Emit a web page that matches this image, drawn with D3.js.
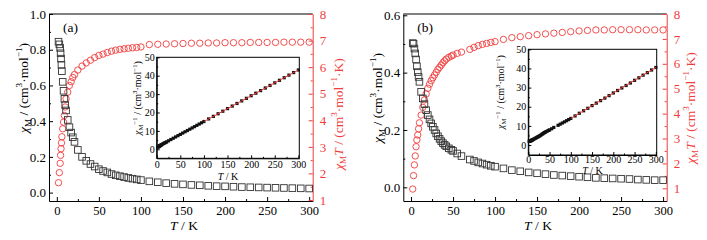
<!DOCTYPE html>
<html>
<head>
<meta charset="utf-8">
<script src="https://d3js.org/d3.v7.min.js"></script>
<style>
  body { margin: 0; background: #fff; }
  svg { display: block; }
</style>
</head>
<body>
<div id="chart"></div>
<script>
// ---- data ----
// panel (a)
const tempA = [2, 3, 4, 4.5, 5, 5.5, 6, 7, 8, 9, 10, 11, 13, 15, 17, 19, 21,
  25, 30, 35, 40, 45, 50, 55, 60, 65, 70, 75, 80, 85, 90, 95, 100,
  110, 120, 130, 140, 150, 160, 170, 180, 190, 200, 210, 220, 230, 240, 250, 260, 270, 280, 290, 300];
const chiA = [0.845, 0.83, 0.81, 0.78, 0.75, 0.715, 0.68, 0.62, 0.57, 0.525, 0.49, 0.46, 0.407, 0.366, 0.336, 0.31, 0.284,
  0.239, 0.2, 0.178, 0.16, 0.146, 0.131, 0.121, 0.113, 0.104, 0.097, 0.092, 0.087, 0.082, 0.078, 0.074, 0.07,
  0.063, 0.058, 0.053, 0.049, 0.046, 0.043, 0.041, 0.038, 0.036, 0.035, 0.033, 0.031, 0.03, 0.029, 0.028, 0.027, 0.026, 0.025, 0.024, 0.023];
const chiTA = [1.65, 2.03, 2.38, 2.68, 2.93, 3.15, 3.38, 3.68, 3.93, 4.18, 4.5, 4.81, 5.06, 5.31, 5.45, 5.61, 5.72,
  5.89, 6.04, 6.16, 6.26, 6.36, 6.44, 6.49, 6.55, 6.6, 6.64, 6.67, 6.69, 6.71, 6.73, 6.74, 6.76,
  6.85, 6.86, 6.87, 6.88, 6.89, 6.9, 6.9, 6.91, 6.91, 6.92, 6.92, 6.92, 6.93, 6.93, 6.93, 6.93, 6.94, 6.94, 6.94, 6.94];
const invA = [1.2, 1.3, 1.4, 1.5, 1.6, 1.7, 1.8, 1.95, 2.1, 2.3, 2.45, 2.6, 2.9, 3.2, 3.5, 3.7, 4.0,
  4.6, 5.3, 6.0, 6.7, 7.4, 8.1, 8.8, 9.5, 10.2, 10.9, 11.6, 12.3, 13.0, 13.7, 14.4, 15.1,
  16.5, 17.9, 19.3, 20.7, 22.1, 23.5, 24.9, 26.3, 27.7, 29.1, 30.5, 31.9, 33.3, 34.7, 36.1, 37.5, 38.9, 40.3, 41.7, 43.1];
const fitTA = [100, 300];
const fitVA = [15.1, 43.1];

// panel (b)
const tempB = [2, 3, 4, 5, 6, 7, 8, 9, 10, 12, 14, 16, 18, 20, 22, 24, 26, 28, 30,
  32, 34, 36, 38, 40, 42, 45, 48, 50, 55, 60, 70, 75, 80, 85, 90, 95, 100,
  110, 120, 130, 140, 150, 160, 170, 180, 190, 200, 210, 220, 230, 240, 250, 260, 270, 280, 290, 300];
const chiB = [0.503, 0.501, 0.484, 0.467, 0.446, 0.422, 0.402, 0.385, 0.368, 0.333, 0.31, 0.29, 0.269, 0.252, 0.237, 0.223, 0.211, 0.2, 0.188,
  0.178, 0.169, 0.161, 0.154, 0.148, 0.143, 0.136, 0.131, 0.127, 0.118, 0.109, 0.097, 0.092, 0.087, 0.083, 0.079, 0.075, 0.072,
  0.066, 0.06, 0.056, 0.052, 0.049, 0.046, 0.043, 0.041, 0.039, 0.037, 0.035, 0.033, 0.032, 0.031, 0.03, 0.029, 0.027, 0.026, 0.025, 0.025];
const chiTB = [0.97, 1.51, 1.94, 2.3, 2.67, 2.94, 3.14, 3.39, 3.63, 3.94, 4.25, 4.55, 4.79, 5.02, 5.18, 5.32, 5.44, 5.55, 5.66,
  5.78, 5.86, 5.95, 6.04, 6.12, 6.19, 6.26, 6.31, 6.35, 6.42, 6.47, 6.58, 6.66, 6.73, 6.78, 6.82, 6.86, 6.89,
  6.98, 7.05, 7.09, 7.13, 7.17, 7.2, 7.23, 7.26, 7.29, 7.32, 7.34, 7.36, 7.36, 7.37, 7.37, 7.37, 7.37, 7.36, 7.36, 7.36];
const invB = [2.0, 2.0, 2.1, 2.15, 2.25, 2.37, 2.49, 2.6, 2.72, 3.0, 3.23, 3.45, 3.7, 3.97, 4.2, 4.45, 4.7, 4.95, 5.3,
  5.6, 5.9, 6.2, 6.5, 6.75, 7.0, 7.35, 7.65, 7.9, 8.5, 9.2, 10.3, 10.9, 11.5, 12.1, 12.7, 13.3, 13.9,
  15.2, 16.6, 17.9, 19.2, 20.6, 21.9, 23.2, 24.5, 25.8, 27.2, 28.5, 29.8, 31.1, 32.4, 33.8, 35.1, 36.5, 37.8, 39.2, 40.5];
const fitTB = [100, 300];
const fitVB = [13.9, 40.5];

// tick labels
const xTicks = [0, 50, 100, 150, 200, 250, 300];
const xMinor = [25, 75, 125, 175, 225, 275];
const yTicksA = [0, 0.2, 0.4, 0.6, 0.8, 1.0];
const yTicksB = [0, 0.2, 0.4, 0.6];
const yMinor = [0.1, 0.3, 0.5, 0.7, 0.9];
const y2Ticks = [1, 2, 3, 4, 5, 6, 7, 8];
const y2Minor = [1.5, 2.5, 3.5, 4.5, 5.5, 6.5, 7.5];
const inYTicks = [0, 10, 20, 30, 40, 50];
const inYMinor = [5, 15, 25, 35, 45];

const RED = "#f03c3c";
const FONT = "'Liberation Serif', 'Times New Roman', serif";

const svg = d3.select("#chart").append("svg")
  .attr("width", 707).attr("height", 240)
  .attr("font-family", FONT);

// text with italic / sub / sup pieces
function rich(text, parts, fs) {
  let off = 0;
  parts.forEach(([s, kind]) => {
    const target = kind === "sub" ? 0.28 * fs : kind === "sup" ? -0.38 * fs : 0;
    const ts = text.append("tspan").attr("dy", target - off).text(s);
    off = target;
    if (kind === "sub" || kind === "sup") ts.attr("font-size", fs * 0.68);
    if (kind === "i") ts.attr("font-style", "italic");
  });
}

function styleAxis(sel, fs, color) {
  sel.attr("font-family", FONT).attr("font-size", fs);
  sel.selectAll("line").attr("stroke", color);
  sel.select(".domain").attr("stroke", color);
  sel.selectAll("text").attr("fill", color);
}

const chiLabel = [["χ", "i"], ["M", "sub"], [" / (cm", ""], ["3", "sup"], ["·mol", ""], ["−1", "sup"], [")", ""]];
const chiTLabel = [["χ", "i"], ["M", "sub"], ["T", "i"], [" / (cm", ""], ["3", "sup"], ["·mol", ""], ["−1", "sup"], ["·K)", ""]];
const invLabel = [["χ", "i"], ["M", "sub"], ["−1", "sup"], [" / (cm", ""], ["3", "sup"], ["·mol", ""], ["−1", "sup"], [")", ""]];

function drawPanel(p) {
  const g = svg.append("g");
  const x = d3.scaleLinear().domain(p.xDom).range([p.L, p.R]);
  const y = d3.scaleLinear().domain(p.yDom).range([p.B, p.T]);
  const y2 = d3.scaleLinear().domain(p.y2Dom).range([p.B, p.T]);

  // top line of the frame
  g.append("line").attr("x1", p.L).attr("x2", p.R).attr("y1", p.T).attr("y2", p.T).attr("stroke", "#000");

  // bottom axis
  g.append("g").attr("transform", `translate(0,${p.B})`)
    .call(d3.axisBottom(x).tickValues(xTicks).tickSize(-4).tickSizeOuter(0).tickPadding(5))
    .call(styleAxis, 12.5, "#000");
  g.append("g").attr("transform", `translate(0,${p.B})`)
    .call(d3.axisBottom(x).tickValues(xMinor).tickSize(-2).tickSizeOuter(0).tickFormat(""))
    .call(s => s.select(".domain").remove()).call(styleAxis, 12, "#000");

  // left axis
  g.append("g").attr("transform", `translate(${p.L},0)`)
    .call(d3.axisLeft(y).tickValues(p.yTicks).tickSize(-4).tickSizeOuter(0).tickPadding(3).tickFormat(d3.format(".1f")))
    .call(styleAxis, 13, "#000");
  g.append("g").attr("transform", `translate(${p.L},0)`)
    .call(d3.axisLeft(y).tickValues(p.yMinor).tickSize(-2).tickSizeOuter(0).tickFormat(""))
    .call(s => s.select(".domain").remove()).call(styleAxis, 12, "#000");

  // right axis (red)
  g.append("g").attr("transform", `translate(${p.R},0)`)
    .call(d3.axisRight(y2).tickValues(y2Ticks).tickSize(-4).tickSizeOuter(0).tickPadding(7).tickFormat(d3.format("d")))
    .call(styleAxis, 13, RED);
  g.append("g").attr("transform", `translate(${p.R},0)`)
    .call(d3.axisRight(y2).tickValues(y2Minor).tickSize(-2).tickSizeOuter(0).tickFormat(""))
    .call(s => s.select(".domain").remove()).call(styleAxis, 12, RED);

  // axis titles
  const tl = g.append("text").attr("font-size", 13.5).attr("text-anchor", "middle")
    .attr("transform", `translate(${p.ltX},${p.ltY}) rotate(-90)`);
  rich(tl, chiLabel, 13.5);
  const tr = g.append("text").attr("font-size", 13.5).attr("text-anchor", "middle").attr("fill", RED)
    .attr("transform", `translate(${p.rtX},${p.rtY}) rotate(-90)`);
  rich(tr, chiTLabel, 13.5);
  const tb = g.append("text").attr("font-size", 13.5).attr("text-anchor", "middle")
    .attr("x", p.btX).attr("y", 230);
  rich(tb, [["T", "i"], [" / K", ""]], 13.5);

  g.append("text").attr("x", p.L + 14).attr("y", 32).attr("font-size", 13.5).text(p.name);

  // data: chi_M T (red circles) and chi_M (squares)
  g.append("g").selectAll("circle")
    .data(p.temp.map((t, i) => ({ t, v: p.chiT[i] })))
    .join("circle")
    .attr("cx", d => x(d.t)).attr("cy", d => y2(d.v)).attr("r", 3.2)
    .attr("fill", "none").attr("stroke", RED).attr("stroke-width", 0.9);

  g.append("g").selectAll("rect")
    .data(p.temp.map((t, i) => ({ t, v: p.chi[i] })))
    .join("rect")
    .attr("x", d => x(d.t) - 3.3).attr("y", d => y(d.v) - 3.3)
    .attr("width", 6.6).attr("height", 6.6)
    .attr("fill", "none").attr("stroke", "#333").attr("stroke-width", 0.9);

  // inset: 1/chi vs T
  const ix = d3.scaleLinear().domain([0, 302]).range([p.iL, p.iR]);
  const iy = d3.scaleLinear().domain(p.iyDom).range([p.iB, p.iT]);
  const ig = g.append("g");
  ig.append("rect").attr("x", p.iL).attr("y", p.iT).attr("width", p.iR - p.iL).attr("height", p.iB - p.iT)
    .attr("fill", "#fff").attr("stroke", "#000");

  ig.append("g").attr("transform", `translate(0,${p.iB})`)
    .call(d3.axisBottom(ix).tickValues(xTicks).tickSize(-3).tickSizeOuter(0).tickPadding(p.iPad))
    .call(styleAxis, 10, "#000");
  ig.append("g").attr("transform", `translate(0,${p.iB})`)
    .call(d3.axisBottom(ix).tickValues(xMinor).tickSize(-1.5).tickSizeOuter(0).tickFormat(""))
    .call(s => s.select(".domain").remove()).call(styleAxis, 10, "#000");
  ig.append("g").attr("transform", `translate(${p.iL},0)`)
    .call(d3.axisLeft(iy).tickValues(inYTicks).tickSize(-3).tickSizeOuter(0).tickPadding(2))
    .call(styleAxis, 10, "#000");
  ig.append("g").attr("transform", `translate(${p.iL},0)`)
    .call(d3.axisLeft(iy).tickValues(inYMinor).tickSize(-1.5).tickSizeOuter(0).tickFormat(""))
    .call(s => s.select(".domain").remove()).call(styleAxis, 10, "#000");

  ig.append("g").selectAll("rect")
    .data(p.temp.map((t, i) => ({ t, v: p.inv[i] })))
    .join("rect")
    .attr("x", d => ix(d.t) - 1.6).attr("y", d => iy(d.v) - 1.6)
    .attr("width", 3.2).attr("height", 3.2).attr("fill", "#111");

  ig.append("path")
    .datum(p.fitT.map((t, i) => ({ t, v: p.fitV[i] })))
    .attr("fill", "none").attr("stroke", RED).attr("stroke-width", 1)
    .attr("d", d3.line().x(d => ix(d.t)).y(d => iy(d.v)));

  const il = ig.append("text").attr("font-size", 10).attr("text-anchor", "middle")
    .attr("transform", `translate(${p.ilX},${p.ilY}) rotate(-90)`);
  rich(il, invLabel, 10);
  const ib = ig.append("text").attr("font-size", 10).attr("text-anchor", "middle")
    .attr("x", (p.iL + p.iR) / 2).attr("y", p.iB + p.iTitle);
  rich(ib, [["T", "i"], [" / K", ""]], 10);
}

drawPanel({
  name: "(a)",
  L: 49, R: 312.7, T: 14, B: 201,
  xDom: [-9.3, 304.2], yDom: [-0.047, 1.0], y2Dom: [0.962, 8.0],
  yTicks: yTicksA, yMinor: yMinor,
  ltX: 27.5, ltY: 88, rtX: 342.5, rtY: 114, btX: 184,
  temp: tempA, chi: chiA, chiT: chiTA, inv: invA, fitT: fitTA, fitV: fitVA,
  iL: 156.7, iR: 299.3, iT: 57.3, iB: 158.3, iyDom: [-4.9, 50],
  iPad: 3, iTitle: 21.5,
  ilX: 140.5, ilY: 98
});

drawPanel({
  name: "(b)",
  L: 403.3, R: 666.7, T: 14, B: 201,
  xDom: [-9.2, 304.3], yDom: [-0.0477, 0.6045], y2Dom: [0.49, 8.0],
  yTicks: yTicksB, yMinor: [0.1, 0.3, 0.5],
  ltX: 381.5, ltY: 98, rtX: 694.5, rtY: 108, btX: 538,
  temp: tempB, chi: chiB, chiT: chiTB, inv: invB, fitT: fitTB, fitV: fitVB,
  iL: 528.3, iR: 656.7, iT: 49.3, iB: 155, iyDom: [-5.2, 50],
  iPad: 1, iTitle: 19,
  ilX: 503.5, ilY: 92
});
</script>
</body>
</html>
